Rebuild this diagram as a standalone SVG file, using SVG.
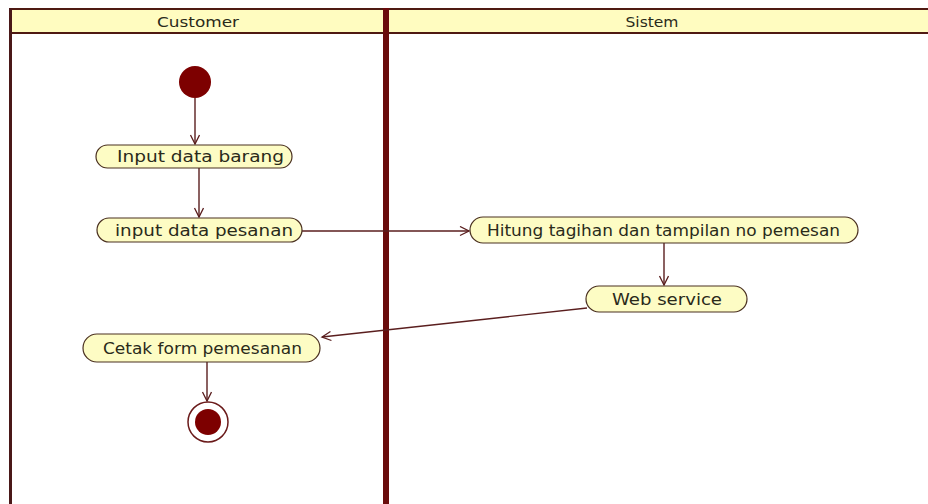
<svg xmlns="http://www.w3.org/2000/svg" width="928" height="504" viewBox="0 0 928 504">
  <style>
    .lane-head { fill: #fffcc0; }
    .lane-line { stroke: #4f1a12; stroke-width: 2; fill: none; }
    .divider { stroke: #6a0c0c; stroke-width: 6; }
    .head-text { font-family: "DejaVu Sans", Verdana, sans-serif; font-size: 14.5px; fill: #2a2a1a; }
    .act { fill: #fdfcc4; stroke: #4a3020; stroke-width: 1.2; }
    .act-text { font-family: "DejaVu Sans", Verdana, sans-serif; font-size: 16px; fill: #2a2a1a; }
    .edge { stroke: #5a1e1e; stroke-width: 1.4; fill: none; marker-end: url(#open-arrow); }
    .dot { fill: #7d0000; }
  </style>
  <defs>
    <marker id="open-arrow" markerUnits="userSpaceOnUse" markerWidth="12" markerHeight="12" refX="10" refY="5" orient="auto">
      <path d="M1,0.5 L10,5 L1,9.5" fill="none" stroke="#5a1e1e" stroke-width="1.3"/>
    </marker>
  </defs>

  <rect width="928" height="504" fill="#ffffff"/>

  <!-- swimlanes -->
  <g id="lanes">
    <rect class="lane-head" x="10" y="9" width="918" height="24"/>
    <line class="lane-line" x1="10" y1="9" x2="928" y2="9"/>
    <line class="lane-line" x1="10" y1="33" x2="928" y2="33"/>
    <line x1="10.5" y1="8" x2="10.5" y2="504" stroke="#4a1818" stroke-width="3"/>
    <line class="divider" x1="386" y1="8" x2="386" y2="504"/>
    <text class="head-text" x="198" y="27" text-anchor="middle" textLength="82" lengthAdjust="spacingAndGlyphs">Customer</text>
    <text class="head-text" x="652" y="27" text-anchor="middle" textLength="53" lengthAdjust="spacingAndGlyphs">Sistem</text>
  </g>

  <!-- connectors -->
  <g id="connectors">
    <line class="edge" x1="195" y1="98" x2="195" y2="144"/>
    <line class="edge" x1="199" y1="168" x2="199" y2="217"/>
    <line class="edge" x1="302" y1="231" x2="469" y2="231"/>
    <line class="edge" x1="664" y1="243" x2="664" y2="285"/>
    <line class="edge" x1="587" y1="308" x2="322" y2="337"/>
    <line class="edge" x1="207" y1="362" x2="207" y2="401"/>
  </g>

  <g id="start">
    <circle class="dot" cx="195" cy="82" r="16"/>
  </g>

  <g id="input-data-barang">
    <rect class="act" x="96" y="145" width="196" height="23" rx="11.5"/>
    <text class="act-text" x="117" y="162" textLength="167" lengthAdjust="spacingAndGlyphs">Input data barang</text>
  </g>

  <g id="input-data-pesanan">
    <rect class="act" x="97" y="218" width="205" height="24" rx="12"/>
    <text class="act-text" x="115" y="236" textLength="178" lengthAdjust="spacingAndGlyphs">input data pesanan</text>
  </g>

  <g id="hitung-tagihan">
    <rect class="act" x="470" y="217" width="388" height="26" rx="13"/>
    <text class="act-text" x="487" y="236" textLength="353" lengthAdjust="spacingAndGlyphs">Hitung tagihan dan tampilan no pemesan</text>
  </g>

  <g id="web-service">
    <rect class="act" x="586" y="286" width="161" height="26" rx="13"/>
    <text class="act-text" x="612" y="305" textLength="110" lengthAdjust="spacingAndGlyphs">Web service</text>
  </g>

  <g id="cetak-form">
    <rect class="act" x="83" y="334" width="237" height="28" rx="14"/>
    <text class="act-text" x="103" y="354" textLength="199" lengthAdjust="spacingAndGlyphs">Cetak form pemesanan</text>
  </g>

  <g id="end">
    <circle cx="208" cy="422" r="20" fill="#ffffff" stroke="#6a1a1a" stroke-width="1.5"/>
    <circle class="dot" cx="208" cy="422" r="13"/>
  </g>
</svg>
